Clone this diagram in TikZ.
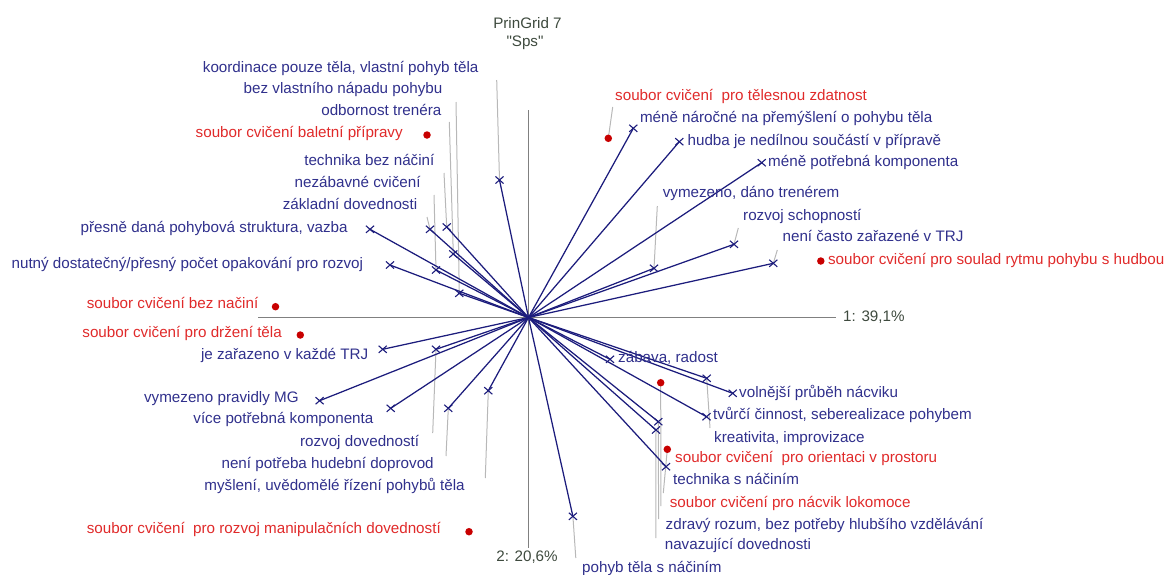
\documentclass[tikz,border=0pt]{standalone}
\usepackage{fontspec}
\setmainfont{Liberation Sans}
\newfontfamily\plainsans{Liberation Sans}
\usetikzlibrary{shapes.misc}

\definecolor{vecblue}{HTML}{1C1C7C}
\definecolor{poleblue}{HTML}{30308C}
\definecolor{elemred}{HTML}{E02A2A}
\definecolor{dotred}{HTML}{C80000}
\definecolor{leadgray}{HTML}{B8B8B8}
\definecolor{axisgray}{HTML}{808080}
\definecolor{titlegray}{HTML}{3E4A3E}

\tikzset{
  lab/.style={font=\fontsize{15.2}{17}\selectfont, inner sep=0pt, text height=11pt, text depth=3.2pt},
  pl/.style={lab, text=poleblue, anchor=east},
  pr/.style={lab, text=poleblue, anchor=west},
  el/.style={lab, text=elemred, anchor=east},
  er/.style={lab, text=elemred, anchor=west},
  ttl/.style={lab, text=titlegray, anchor=center},
  pole/.style={cross out, draw=vecblue, line width=1.1pt, minimum width=7pt, minimum height=6pt, inner sep=0pt},
  elem/.style={circle, fill=dotred, minimum size=7.5pt, inner sep=0pt},
  vec/.style={draw=vecblue, line width=1.25pt},
  lead/.style={draw=leadgray, line width=1pt},
  axis/.style={draw=axisgray, line width=0.9pt}
}

\begin{document}
\begin{tikzpicture}[x=1pt, y=-1pt]
\useasboundingbox (0,0) rectangle (1168,574);

% title
\node[ttl] (t1) at (527.5,25) {PrinGrid 7};
\node[ttl, font=\plainsans\fontsize{15.2}{17}\selectfont] (t2) at (525,43) {"Sps"};

% axes
\coordinate (o) at (528.5,317.5);
\coordinate (xl) at (258,317.5);
\coordinate (xr) at (836,317.5);
\coordinate (yt) at (528.5,110);
\coordinate (yb) at (528.5,548);
\draw[axis] (xl) -- (xr);
\draw[axis] (yt) -- (yb);
\node[lab, text=titlegray, anchor=west] (ax1) at (843,317.5) {1: 39,1\%};
\node[ttl] (ax2) at (527,558) {2: 20,6\%};

% construct pole positions
\foreach \n/\x/\y in {
  p1/499.5/180, p2/459.3/293.3, p3/453.3/254, p4/446.7/227, p5/436/270,
  p6/430/229.3, p7/370/229.3, p8/390/265, p9/382.7/349.3, p10/436/349.3,
  p11/319.6/400.7, p12/390.7/408.3, p13/448.3/408.3, p14/488.3/390.7,
  p15/633.3/128.3, p16/679.3/141.7, p17/761.7/162.7, p18/654/268.3,
  p19/734/244.3, p20/773.3/263.3, p21/610/359.3, p22/706.7/378.3,
  p23/732.7/393.3, p24/706.5/416.7, p25/658.3/421.7, p26/656/430,
  p27/666/466.7, p28/572.9/516.3}
  \coordinate (\n) at (\x,\y);

% element points
\coordinate (e1) at (427,135);
\coordinate (e2) at (275.5,306.7);
\coordinate (e3) at (300.3,335);
\coordinate (e4) at (469,531.7);
\coordinate (e5) at (608.3,138.3);
\coordinate (e6) at (820.8,261);
\coordinate (e7) at (667.3,449.3);
\coordinate (e8) at (660.7,382.7);

% leader ends
\coordinate (k1) at (496.7,80);
\coordinate (k2) at (456,102);
\coordinate (k3) at (449.3,122);
\coordinate (k4) at (444,173);
\coordinate (k5) at (434,195);
\coordinate (k6) at (427,217);
\coordinate (k10) at (432.7,433);
\coordinate (k13) at (446,456);
\coordinate (k14) at (485.3,478);
\coordinate (k18) at (657.3,206);
\coordinate (k19) at (738.3,228);
\coordinate (k20) at (777.3,250);
\coordinate (k22) at (710,428);
\coordinate (k25) at (658.6,519);
\coordinate (k26) at (655.8,538);
\coordinate (k28) at (575.8,558);
\coordinate (m5) at (612.7,107);
\coordinate (m7) at (663.3,493);
\coordinate (m8) at (660.9,506);

% grey leaders
\foreach \i in {1,2,3,4,5,6,10,13,14,18,19,20,22,25,26,28}
  \draw[lead] (p\i) -- (k\i);
\draw[lead] (e5) -- (m5);
\draw[lead] (e7) -- (m7);
\draw[lead] (e8) -- (m8);

% vectors from the origin with cross markers
\foreach \i in {1,...,28} {
  \draw[vec] (o) -- (p\i);
  \node[pole] (q\i) at (p\i) {};
}

% element dots
\foreach \i in {1,...,8}
  \node[elem] (d\i) at (e\i) {};

% pole labels, left side
\node[pl] (l1) at (478.6,68.3) {koordinace pouze těla, vlastní pohyb těla};
\node[pl] (l2) at (442.5,89.3) {bez vlastního nápadu pohybu};
\node[pl] (l3) at (441.5,111.7) {odbornost trenéra};
\node[pl] (l4) at (434.6,161.7) {technika bez náčiní};
\node[pl] (l5) at (420.8,183.3) {nezábavné cvičení};
\node[pl] (l6) at (417.4,206) {základní dovednosti};
\node[pl] (l7) at (347.8,229) {přesně daná pohybová struktura, vazba};
\node[pl] (l8) at (363.3,265) {nutný dostatečný/přesný počet opakování pro rozvoj};
\node[pl] (l9) at (368.5,356) {je zařazeno v každé TRJ};
\node[pl] (l10) at (419.4,442.7) {rozvoj dovedností};
\node[pl] (l11) at (298.9,398.3) {vymezeno pravidly MG};
\node[pl] (l12) at (373.6,420) {více potřebná komponenta};
\node[pl] (l13) at (433.9,465) {není potřeba hudební doprovod};
\node[pl] (l14) at (464.9,486.7) {myšlení, uvědomělé řízení pohybů těla};

% pole labels, right side
\node[pr] (l15) at (639.8,118.3) {méně náročné na přemýšlení o pohybu těla};
\node[pr] (l16) at (687.4,141.7) {hudba je nedílnou součástí v přípravě};
\node[pr] (l17) at (768,162.3) {méně potřebná komponenta};
\node[pr] (l18) at (662.6,193.3) {vymezeno, dáno trenérem};
\node[pr] (l19) at (743,216.7) {rozvoj schopností};
\node[pr] (l20) at (782.4,237.7) {není často zařazené v TRJ};
\node[pr] (l21) at (618,358.3) {zábava, radost};
\node[pr] (l22) at (714,438.3) {kreativita, improvizace};
\node[pr] (l23) at (739,394) {volnější průběh nácviku};
\node[pr] (l24) at (713,415.7) {tvůrčí činnost, seberealizace pohybem};
\node[pr] (l25) at (665.5,525.7) {zdravý rozum, bez potřeby hlubšího vzdělávání};
\node[pr] (l26) at (664.6,545.7) {navazující dovednosti};
\node[pr] (l27) at (672.9,480.7) {technika s náčiním};
\node[pr] (l28) at (582,568.3) {pohyb těla s náčiním};

% element labels
\node[el] (n1) at (402.9,134) {soubor cvičení baletní přípravy};
\node[el] (n2) at (258.5,305) {soubor cvičení bez načiní};
\node[el] (n3) at (282,334) {soubor cvičení pro držení těla};
\node[el] (n4) at (441,530) {soubor cvičení\ \ pro rozvoj manipulačních dovedností};
\node[er] (n5) at (615,96.7) {soubor cvičení\ \ pro tělesnou zdatnost};
\node[er] (n6) at (827.9,261) {soubor cvičení pro soulad rytmu pohybu s hudbou};
\node[er] (n7) at (675,459) {soubor cvičení\ \ pro orientaci v prostoru};
\node[er] (n8) at (669.6,503.3) {soubor cvičení pro nácvik lokomoce};
\end{tikzpicture}
\end{document}
